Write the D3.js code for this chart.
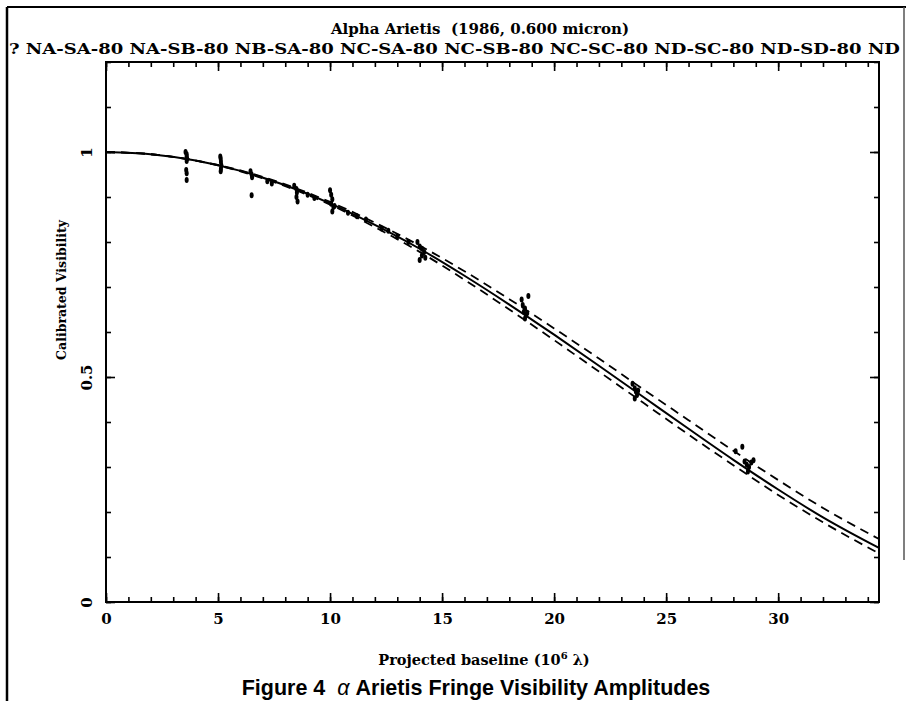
<!DOCTYPE html>
<html>
<head>
<meta charset="utf-8">
<script src="https://cdn.jsdelivr.net/npm/d3@7"></script>
<style>
  body { margin: 0; background: #fff; }
  svg text { fill: #000; }
</style>
</head>
<body>
<div id="chart"></div>
<script>
"use strict";

// model curves (uniform disk fit and +/- 1 sigma)
var curveX = [0, 2, 4, 6, 8, 10, 12, 14, 16, 18, 20, 22, 24, 26, 28, 30, 32, 34.5];
var fitV   = [1.0, 0.995, 0.981, 0.958, 0.926, 0.886, 0.838, 0.785, 0.725, 0.661, 0.594, 0.525, 0.455, 0.385, 0.316, 0.250, 0.188, 0.120];
var upperV = [1.0, 0.995, 0.981, 0.959, 0.928, 0.889, 0.843, 0.792, 0.735, 0.673, 0.608, 0.541, 0.472, 0.404, 0.336, 0.271, 0.209, 0.140];
var lowerV = [1.0, 0.995, 0.981, 0.957, 0.924, 0.883, 0.833, 0.778, 0.716, 0.650, 0.582, 0.512, 0.442, 0.372, 0.304, 0.238, 0.177, 0.108];

// measured visibilities
var ptX = [3.55, 3.6, 3.6, 3.62, 3.6, 3.58, 3.6, 3.6,
           5.1, 5.12, 5.13, 5.15, 5.13, 5.12,
           6.45, 6.5, 6.52, 6.5,
           7.2, 7.4,
           8.4, 8.5, 8.52, 8.5, 8.55, 9.0, 9.3,
           10.0, 10.05, 10.1, 10.05, 10.15, 10.1, 10.2,
           10.8, 11.2, 11.6, 12.3, 12.6, 13.0, 13.5,
           13.9, 14.0, 14.1, 14.2, 14.1, 14.25, 14.0,
           18.55, 18.6, 18.7, 18.65, 18.75, 18.7, 18.8, 18.85,
           23.5, 23.6, 23.65, 23.7, 23.6, 23.75,
           28.1, 28.4, 28.5, 28.6, 28.7, 28.8, 28.65, 28.9];
var ptV = [1.0, 0.995, 0.99, 0.985, 0.98, 0.96, 0.953, 0.938,
           0.99, 0.985, 0.978, 0.97, 0.963, 0.957,
           0.957, 0.95, 0.944, 0.904,
           0.935, 0.93,
           0.925, 0.918, 0.91, 0.9, 0.89, 0.905, 0.898,
           0.915, 0.905, 0.895, 0.885, 0.878, 0.868, 0.88,
           0.865, 0.857, 0.85, 0.83, 0.825, 0.812, 0.8,
           0.80, 0.79, 0.785, 0.778, 0.77, 0.765, 0.76,
           0.672, 0.66, 0.652, 0.645, 0.638, 0.63, 0.642, 0.68,
           0.485, 0.475, 0.468, 0.46, 0.452, 0.47,
           0.335, 0.345, 0.312, 0.305, 0.3, 0.31, 0.29, 0.315];

var yTickLabels = ["0", "0.5", "1"];
var titleText = "Alpha Arietis  (1986, 0.600 micron)";
var baselineText = "? NA-SA-80 NA-SB-80 NB-SA-80 NC-SA-80 NC-SB-80 NC-SC-80 ND-SC-80 ND-SD-80 ND";

function renderChart() {
    var svg = d3.select("#chart").append("svg")
        .attr("width", 906)
        .attr("height", 701);

    var margin = { left: 106, right: 879, top: 62, bottom: 602 };

    var x = d3.scaleLinear().domain([0, 34.5]).range([margin.left, margin.right]),
        y = d3.scaleLinear().domain([0, 1.2]).range([margin.bottom, margin.top]);

    var serif = "'DejaVu Serif', 'Liberation Serif', serif";

    // page border lines from the scan
    svg.append("line").attr("x1", 7).attr("x2", 7).attr("y1", 7).attr("y2", 701)
        .attr("stroke", "#000").attr("stroke-width", 2.5);
    svg.append("line").attr("x1", 7).attr("x2", 906).attr("y1", 7).attr("y2", 7)
        .attr("stroke", "#000").attr("stroke-width", 2);
    svg.append("line").attr("x1", 904).attr("x2", 904).attr("y1", 7).attr("y2", 560)
        .attr("stroke", "#555").attr("stroke-width", 1.5);

    // titles
    svg.append("text")
        .attr("x", 480).attr("y", 34)
        .attr("text-anchor", "middle")
        .style("white-space", "pre")
        .style("font", "bold 15px " + serif)
        .text(titleText);

    svg.append("text")
        .attr("x", 9).attr("y", 54)
        .attr("textLength", 891)
        .attr("lengthAdjust", "spacingAndGlyphs")
        .style("font", "bold 14px " + serif)
        .text(baselineText);

    // ticks (all drawn inward)
    var minorX = d3.range(0, 35, 1), majorX = d3.range(0, 35, 5);
    var minorY = d3.range(0, 1.201, 0.1), majorY = [0, 0.5, 1];

    function axisG(axis, tx, ty) {
        var g = svg.append("g")
            .attr("transform", "translate(" + tx + "," + ty + ")")
            .call(axis);
        g.select(".domain").remove();
        g.selectAll("line").attr("stroke", "#000").attr("stroke-width", 1.6);
        return g;
    }

    axisG(d3.axisBottom(x).tickValues(minorX).tickSize(-5).tickFormat(""), 0, margin.bottom);
    axisG(d3.axisTop(x).tickValues(minorX).tickSize(-5).tickFormat(""), 0, margin.top);
    axisG(d3.axisTop(x).tickValues(majorX).tickSize(-9).tickFormat(""), 0, margin.top);
    var xAxis = axisG(d3.axisBottom(x).tickValues(majorX).tickSize(-9).tickPadding(11)
        .tickFormat(d3.format("d")), 0, margin.bottom);
    xAxis.selectAll("text")
        .style("font", "bold 15px " + serif);

    axisG(d3.axisLeft(y).tickValues(minorY).tickSize(-5).tickFormat(""), margin.left, 0);
    axisG(d3.axisRight(y).tickValues(minorY).tickSize(-5).tickFormat(""), margin.right, 0);
    axisG(d3.axisRight(y).tickValues(majorY).tickSize(-9).tickFormat(""), margin.right, 0);
    var yAxis = axisG(d3.axisLeft(y).tickValues(majorY).tickSize(-9)
        .tickFormat(function (d, i) { return yTickLabels[i]; }), margin.left, 0);
    yAxis.selectAll("text")
        .attr("x", null).attr("dy", null)
        .attr("text-anchor", "middle")
        .attr("transform", "translate(-14,0) rotate(-90)")
        .style("font", "bold 15px " + serif);

    // frame
    svg.append("rect")
        .attr("x", margin.left).attr("y", margin.top)
        .attr("width", margin.right - margin.left).attr("height", margin.bottom - margin.top)
        .attr("fill", "none").attr("stroke", "#000").attr("stroke-width", 2);

    // axis titles
    svg.append("text")
        .attr("transform", "translate(66,290) rotate(-90)")
        .attr("text-anchor", "middle")
        .style("font", "bold 12.5px " + serif)
        .text("Calibrated Visibility");

    var xt = svg.append("text")
        .attr("x", 484).attr("y", 665)
        .attr("text-anchor", "middle")
        .style("font", "bold 14.5px " + serif);
    xt.append("tspan").text("Projected baseline (10");
    xt.append("tspan").attr("dy", -6).style("font-size", "10px").text("6");
    xt.append("tspan").attr("dy", 6).text(" \u03bb)");

    // caption
    var cap = svg.append("text")
        .attr("x", 476).attr("y", 695)
        .attr("text-anchor", "middle")
        .style("white-space", "pre")
        .style("font", "bold 21.5px 'Liberation Sans', Arial, sans-serif");
    cap.append("tspan").text("Figure 4  ");
    cap.append("tspan").style("font-style", "italic").style("font-weight", "normal").text("\u03b1");
    cap.append("tspan").text(" Arietis Fringe Visibility Amplitudes");

    // model curves
    function curveData(vals) {
        return curveX.map(function (d, i) { return [d, vals[i]]; });
    }
    var line = d3.line()
        .x(function (d) { return x(d[0]); })
        .y(function (d) { return y(d[1]); })
        .curve(d3.curveMonotoneX);

    svg.append("path").datum(curveData(upperV))
        .attr("d", line).attr("fill", "none")
        .attr("stroke", "#000").attr("stroke-width", 1.8)
        .attr("stroke-dasharray", "9,6");
    svg.append("path").datum(curveData(lowerV))
        .attr("d", line).attr("fill", "none")
        .attr("stroke", "#000").attr("stroke-width", 1.8)
        .attr("stroke-dasharray", "9,6");
    svg.append("path").datum(curveData(fitV))
        .attr("d", line).attr("fill", "none")
        .attr("stroke", "#000").attr("stroke-width", 2);

    // data points
    svg.selectAll(".pt")
        .data(ptX)
        .enter().append("ellipse")
        .attr("class", "pt")
        .attr("cx", function (d) { return x(d); })
        .attr("cy", function (d, i) { return y(ptV[i]); })
        .attr("rx", 2)
        .attr("ry", 3)
        .attr("fill", "#000");
}

renderChart();
</script>
</body>
</html>
